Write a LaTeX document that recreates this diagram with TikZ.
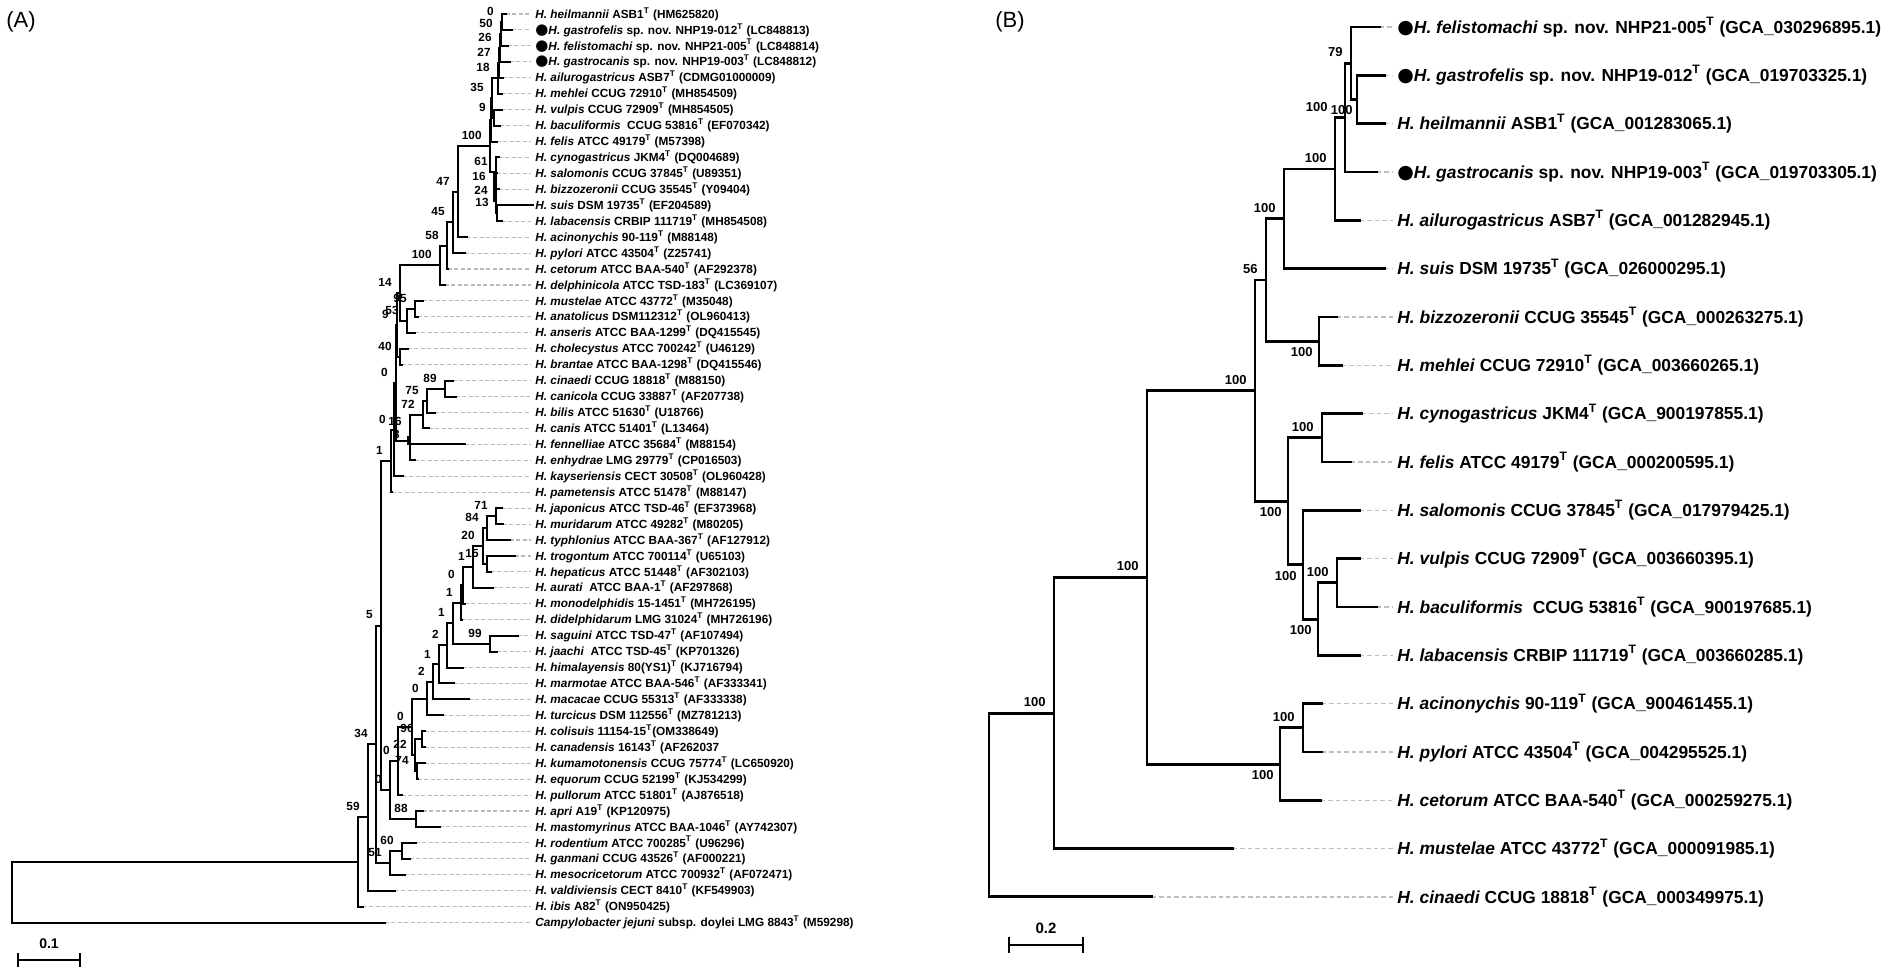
\documentclass[tikz,border=0pt]{standalone}
\usepackage{fontspec}
\setmainfont{Liberation Sans}
\newfontfamily\dvsans{DejaVu Sans}
\usetikzlibrary{positioning}

\newcommand{\sT}{\textsuperscript{T}}
\newcommand{\dotA}{{\dvsans\fontsize{7.5}{8}\selectfont ●}}
\newcommand{\dotB}{{\dvsans\fontsize{9.5}{10}\selectfont ●}}
% parent, upper child, lower child
\newcommand{\kids}[3]{\draw[branch] (#2) -| (#1) |- (#3);}

\begin{document}
\begin{tikzpicture}[x=0.5pt, y=-0.5pt,
    branch/.style={line width=1pt, line cap=rect},
    guide/.style={draw=gray!55, line width=0.55pt, dash pattern=on 2pt off 1.2pt, shorten >=2pt},
    labA/.style={anchor=west, inner sep=0pt, font=\fontsize{5.9}{7}\selectfont\bfseries},
    labB/.style={anchor=west, inner sep=0pt, font=\fontsize{8.7}{10}\selectfont\bfseries},
    boot/.style={anchor=south east, inner sep=0pt, xshift=-4pt, yshift=3pt, font=\fontsize{5.9}{7}\selectfont\bfseries},
    bootB/.style={anchor=south east, inner sep=0pt, xshift=-4pt, yshift=3pt, font=\fontsize{6.5}{7}\selectfont\bfseries},
    bootBlow/.style={anchor=north east, inner sep=0pt, xshift=-3pt, yshift=-3pt, font=\fontsize{6.5}{7}\selectfont\bfseries},
    scalebar/.style={line width=1.1pt},
    panel/.style={font=\fontsize{11}{12}\selectfont}
]
\useasboundingbox (0,0) rectangle (1902,969);
\fill[white] (0,0) rectangle (1902,969);

\node[panel] (titA) at (21,22) {(A)};
\node[panel] (titB) at (1010,22) {(B)};

% ---- panel A: leaves
\foreach \i/\tx/\txt in {
  1/506/{\textit{H. heilmannii} ASB1\sT{} (HM625820)},
  2/512/{\dotA\textit{H. gastrofelis} sp. nov. NHP19-012\sT{} (LC848813)},
  3/508/{\dotA\textit{H. felistomachi} sp. nov. NHP21-005\sT{} (LC848814)},
  4/510/{\dotA\textit{H. gastrocanis} sp. nov. NHP19-003\sT{} (LC848812)},
  5/503/{\textit{H. ailurogastricus} ASB7\sT{} (CDMG01000009)},
  6/502/{\textit{H. mehlei} CCUG 72910\sT{} (MH854509)},
  7/502/{\textit{H. vulpis} CCUG 72909\sT{} (MH854505)},
  8/500/{\textit{H. baculiformis}~ CCUG 53816\sT{} (EF070342)},
  9/497/{\textit{H. felis} ATCC 49179\sT{} (M57398)},
  10/499/{\textit{H. cynogastricus} JKM4\sT{} (DQ004689)},
  11/497/{\textit{H. salomonis} CCUG 37845\sT{} (U89351)},
  12/499/{\textit{H. bizzozeronii} CCUG 35545\sT{} (Y09404)},
  13/533/{\textit{H. suis} DSM 19735\sT{} (EF204589)},
  14/502/{\textit{H. labacensis} CRBIP 111719\sT{} (MH854508)},
  15/467/{\textit{H. acinonychis} 90-119\sT{} (M88148)},
  16/465/{\textit{H. pylori} ATCC 43504\sT{} (Z25741)},
  17/448/{\textit{H. cetorum} ATCC BAA-540\sT{} (AF292378)},
  18/445/{\textit{H. delphinicola} ATCC TSD-183\sT{} (LC369107)},
  19/423/{\textit{H. mustelae} ATCC 43772\sT{} (M35048)},
  20/418/{\textit{H. anatolicus} DSM112312\sT{} (OL960413)},
  21/415/{\textit{H. anseris} ATCC BAA-1299\sT{} (DQ415545)},
  22/408/{\textit{H. cholecystus} ATCC 700242\sT{} (U46129)},
  23/402/{\textit{H. brantae} ATCC BAA-1298\sT{} (DQ415546)},
  24/453/{\textit{H. cinaedi} CCUG 18818\sT{} (M88150)},
  25/456/{\textit{H. canicola} CCUG 33887\sT{} (AF207738)},
  26/435/{\textit{H. bilis} ATCC 51630\sT{} (U18766)},
  27/429/{\textit{H. canis} ATCC 51401\sT{} (L13464)},
  28/465/{\textit{H. fennelliae} ATCC 35684\sT{} (M88154)},
  29/415/{\textit{H. enhydrae} LMG 29779\sT{} (CP016503)},
  30/403/{\textit{H. kayseriensis} CECT 30508\sT{} (OL960428)},
  31/392/{\textit{H. pametensis} ATCC 51478\sT{} (M88147)},
  32/502/{\textit{H. japonicus} ATCC TSD-46\sT{} (EF373968)},
  33/503/{\textit{H. muridarum} ATCC 49282\sT{} (M80205)},
  34/510/{\textit{H. typhlonius} ATCC BAA-367\sT{} (AF127912)},
  35/515/{\textit{H. trogontum} ATCC 700114\sT{} (U65103)},
  36/491/{\textit{H. hepaticus} ATCC 51448\sT{} (AF302103)},
  37/493/{\textit{H. aurati}~ ATCC BAA-1\sT{} (AF297868)},
  38/465/{\textit{H. monodelphidis} 15-1451\sT{} (MH726195)},
  39/462/{\textit{H. didelphidarum} LMG 31024\sT{} (MH726196)},
  40/518/{\textit{H. saguini} ATCC TSD-47\sT{} (AF107494)},
  41/497/{\textit{H. jaachi}~ ATCC TSD-45\sT{} (KP701326)},
  42/463/{\textit{H. himalayensis} 80(YS1)\sT{} (KJ716794)},
  43/454/{\textit{H. marmotae} ATCC BAA-546\sT{} (AF333341)},
  44/469/{\textit{H. macacae} CCUG 55313\sT{} (AF333338)},
  45/443/{\textit{H. turcicus} DSM 112556\sT{} (MZ781213)},
  46/425/{\textit{H. colisuis} 11154-15\sT{}(OM338649)},
  47/425/{\textit{H. canadensis} 16143\sT{} (AF262037},
  48/425/{\textit{H. kumamotonensis} CCUG 75774\sT{} (LC650920)},
  49/418/{\textit{H. equorum} CCUG 52199\sT{} (KJ534299)},
  50/402/{\textit{H. pullorum} ATCC 51801\sT{} (AJ876518)},
  51/423/{\textit{H. apri} A19\sT{} (KP120975)},
  52/440/{\textit{H. mastomyrinus} ATCC BAA-1046\sT{} (AY742307)},
  53/416/{\textit{H. rodentium} ATCC 700285\sT{} (U96296)},
  54/410/{\textit{H. ganmani} CCUG 43526\sT{} (AF000221)},
  55/405/{\textit{H. mesocricetorum} ATCC 700932\sT{} (AF072471)},
  56/395/{\textit{H. valdiviensis} CECT 8410\sT{} (KF549903)},
  57/363/{\textit{H. ibis} A82\sT{} (ON950425)},
  58/385/{\textit{Campylobacter jejuni} subsp. doylei LMG 8843\sT{} (M59298)}}{
  \coordinate (a\i) at (\tx, {14+(\i-1)*15.94});
  \node[labA] (la\i) at (535, {14+(\i-1)*15.94}) {\txt};
  \draw[guide] (a\i) -- (la\i.west);
}

% ---- panel A: inner nodes
\coordinate (T0) at (502,22);     \coordinate (T50) at (501,34);
\coordinate (T26) at (500,48);    \coordinate (T27) at (499,63);
\coordinate (T18) at (498,78);    \coordinate (V9) at (494,118);
\coordinate (T35) at (492,98);    \coordinate (Tfel) at (491,120);
\coordinate (L13) at (497,213);   \coordinate (L24) at (496,201);
\coordinate (L16) at (494,187);   \coordinate (L61) at (496,172);
\coordinate (Ttop) at (490,146);
\coordinate (N47) at (458,191.6); \coordinate (N45) at (453,222.4);
\coordinate (N58) at (447,245.7); \coordinate (N100b) at (440,265.4);
\coordinate (N95) at (415,308.9); \coordinate (N53) at (407,320.9);
\coordinate (N14) at (400,293.1); \coordinate (N40) at (400,356.7);
\coordinate (N9) at (397,324.9);
\coordinate (N89) at (445,388.6); \coordinate (N75) at (427,400.6);
\coordinate (N72) at (423,414.5); \coordinate (N16) at (410,437.4);
\coordinate (N3) at (408,440.9);  \coordinate (N0a) at (396,382.9);
\coordinate (N0b) at (394,429.6); \coordinate (N1) at (391,460.9);
\coordinate (N71) at (496,516.1); \coordinate (N84) at (487,528.0);
\coordinate (N15) at (487,563.9); \coordinate (N20) at (483,546.0);
\coordinate (Na) at (473,566.9);  \coordinate (N0d) at (463,585.4);
\coordinate (N1a) at (461,602.5); \coordinate (N99) at (490,643.6);
\coordinate (N1b) at (453,623.1); \coordinate (N2a) at (447,645.3);
\coordinate (N1c) at (439,664.4); \coordinate (N2c) at (433,681.9);
\coordinate (N0e) at (427,698.6);
\coordinate (N96) at (422,739.3); \coordinate (N74) at (417,771.2);
\coordinate (N22) at (415,755.2); \coordinate (Nb) at (412,726.9);
\coordinate (Npul) at (398,761.0); \coordinate (N88) at (416,819.0);
\coordinate (N0c) at (390,790.0); \coordinate (X5) at (381,625.5);
\coordinate (N60) at (402,850.9); \coordinate (N51) at (390,862.8);
\coordinate (N34) at (376,744.1); \coordinate (N59) at (368,817.4);
\coordinate (Nin) at (358,862.0); \coordinate (rootA) at (12,892.3);

\kids{T0}{a1}{a2}      \kids{T50}{T0}{a3}     \kids{T26}{T50}{a4}
\kids{T27}{T26}{a5}    \kids{T18}{T27}{a6}    \kids{V9}{a7}{a8}
\kids{T35}{T18}{V9}    \kids{Tfel}{T35}{a9}   \kids{L13}{a13}{a14}
\kids{L24}{a12}{L13}   \kids{L16}{a11}{L24}   \kids{L61}{a10}{L16}
\kids{Ttop}{Tfel}{L61}
\kids{N47}{Ttop}{a15}  \kids{N45}{N47}{a16}   \kids{N58}{N45}{a17}
\kids{N100b}{N58}{a18} \kids{N95}{a19}{a20}   \kids{N53}{N95}{a21}
\kids{N14}{N100b}{N53} \kids{N40}{a22}{a23}   \kids{N9}{N14}{N40}
\kids{N89}{a24}{a25}   \kids{N75}{N89}{a26}   \kids{N72}{N75}{a27}
\kids{N16}{N72}{a29}   \kids{N3}{N16}{a28}    \kids{N0a}{N9}{N3}
\kids{N0b}{N0a}{a30}   \kids{N1}{N0b}{a31}
\kids{N71}{a32}{a33}   \kids{N84}{N71}{a34}   \kids{N15}{a35}{a36}
\kids{N20}{N84}{N15}   \kids{Na}{N20}{a37}    \kids{N0d}{Na}{a38}
\kids{N1a}{N0d}{a39}   \kids{N99}{a40}{a41}   \kids{N1b}{N1a}{N99}
\kids{N2a}{N1b}{a42}   \kids{N1c}{N2a}{a43}   \kids{N2c}{N1c}{a44}
\kids{N0e}{N2c}{a45}   \kids{N96}{a46}{a47}   \kids{N74}{a48}{a49}
\kids{N22}{N96}{N74}   \kids{Nb}{N0e}{N22}    \kids{Npul}{Nb}{a50}
\kids{N88}{a51}{a52}   \kids{N0c}{Npul}{N88}  \kids{X5}{N1}{N0c}
\kids{N60}{a53}{a54}   \kids{N51}{N60}{a55}   \kids{N34}{X5}{N51}
\kids{N59}{N34}{a56}   \kids{Nin}{N59}{a57}   \kids{rootA}{Nin}{a58}

\foreach \n/\v in {T0/0, T50/50, T26/26, T27/27, T18/18, T35/35, V9/9,
    Ttop/100, L61/61, L16/16, L24/24, L13/13, N47/47, N45/45, N58/58,
    N100b/100, N14/14, N95/95, N53/53, N9/9, N40/40, N0a/0, N89/89,
    N75/75, N72/72, N0b/0, N1/1, N71/71, N84/84, N20/20,
    N15/15, Na/1, N0d/0, N1a/1, N99/99, N1b/1, N2a/2, N1c/1, N2c/2,
    N0e/0, N96/96, N22/22, N74/74, Nb/0, Npul/0, N88/88, N0c/0, X5/5,
    N60/60, N51/51, N34/34, N59/59}
  \node[boot] at (\n) {\v};
\node[boot, yshift=2.5pt] at (N16) {16};
\node[boot, yshift=-2pt] at (N3) {3};

\coordinate (sA1) at (18,960); \coordinate (sA2) at (80,960);
\draw[scalebar] (sA1) -- (sA2);
\draw[scalebar] ([yshift=3.5pt]sA1) -- ([yshift=-3.5pt]sA1);
\draw[scalebar] ([yshift=3.5pt]sA2) -- ([yshift=-3.5pt]sA2);
\node[font=\fontsize{7}{8}\selectfont\bfseries] (sAl) at (49,944) {0.1};

% ---- panel B
\begin{scope}[branch/.style={line width=1.45pt, line cap=rect},
    guide/.style={draw=gray!50, line width=0.6pt, dash pattern=on 2.2pt off 1.5pt, shorten >=2pt}]
\foreach \j/\tx/\txt in {
  1/1380/{\dotB\textit{H. felistomachi} sp. nov. NHP21-005\sT{} (GCA\_030296895.1)},
  2/1385/{\dotB\textit{H. gastrofelis} sp. nov. NHP19-012\sT{} (GCA\_019703325.1)},
  3/1385/{\textit{H. heilmannii} ASB1\sT{} (GCA\_001283065.1)},
  4/1377/{\dotB\textit{H. gastrocanis} sp. nov. NHP19-003\sT{} (GCA\_019703305.1)},
  5/1360/{\textit{H. ailurogastricus} ASB7\sT{} (GCA\_001282945.1)},
  6/1385/{\textit{H. suis} DSM 19735\sT{} (GCA\_026000295.1)},
  7/1337/{\textit{H. bizzozeronii} CCUG 35545\sT{} (GCA\_000263275.1)},
  8/1342/{\textit{H. mehlei} CCUG 72910\sT{} (GCA\_003660265.1)},
  9/1362/{\textit{H. cynogastricus} JKM4\sT{} (GCA\_900197855.1)},
  10/1351/{\textit{H. felis} ATCC 49179\sT{} (GCA\_000200595.1)},
  11/1360/{\textit{H. salomonis} CCUG 37845\sT{} (GCA\_017979425.1)},
  12/1360/{\textit{H. vulpis} CCUG 72909\sT{} (GCA\_003660395.1)},
  13/1377/{\textit{H. baculiformis}~ CCUG 53816\sT{} (GCA\_900197685.1)},
  14/1360/{\textit{H. labacensis} CRBIP 111719\sT{} (GCA\_003660285.1)},
  15/1322/{\textit{H. acinonychis} 90-119\sT{} (GCA\_900461455.1)},
  16/1322/{\textit{H. pylori} ATCC 43504\sT{} (GCA\_004295525.1)},
  17/1321/{\textit{H. cetorum} ATCC BAA-540\sT{} (GCA\_000259275.1)},
  18/1233/{\textit{H. mustelae} ATCC 43772\sT{} (GCA\_000091985.1)},
  19/1152/{\textit{H. cinaedi} CCUG 18818\sT{} (GCA\_000349975.1)}}{
  \coordinate (b\j) at (\tx, {27+(\j-1)*48.33});
  \node[labB] (lb\j) at (1397, {27+(\j-1)*48.33}) {\txt};
  \draw[guide] (b\j) -- (lb\j.west);
}

\coordinate (M79) at (1351,63.2);   \coordinate (Mgh) at (1357,99.5);
\coordinate (Mfel) at (1345,117.6); \coordinate (MA) at (1335,169.0);
\coordinate (M100a) at (1284,218.8); \coordinate (Mbm) at (1319,341.2);
\coordinate (M56) at (1266,280.0);  \coordinate (Mcy) at (1322,437.8);
\coordinate (Mvb) at (1337,582.8);  \coordinate (Mvbl) at (1318,619.1);
\coordinate (Msal) at (1303,564.7); \coordinate (Mcf) at (1288,501.3);
\coordinate (Mbig) at (1255,390.6); \coordinate (Macp) at (1303,727.8);
\coordinate (Mhp) at (1280,764.1);  \coordinate (M100c) at (1147,577.3);
\coordinate (Mmus) at (1054,713.1); \coordinate (rootB) at (989,805.0);

\kids{Mgh}{b2}{b3}     \kids{M79}{b1}{Mgh}     \kids{Mfel}{M79}{b4}
\kids{MA}{Mfel}{b5}    \kids{M100a}{MA}{b6}    \kids{Mbm}{b7}{b8}
\kids{M56}{M100a}{Mbm} \kids{Mcy}{b9}{b10}     \kids{Mvb}{b12}{b13}
\kids{Mvbl}{Mvb}{b14}  \kids{Msal}{b11}{Mvbl}  \kids{Mcf}{Mcy}{Msal}
\kids{Mbig}{M56}{Mcf}  \kids{Macp}{b15}{b16}   \kids{Mhp}{Macp}{b17}
\kids{M100c}{Mbig}{Mhp} \kids{Mmus}{M100c}{b18} \kids{rootB}{Mmus}{b19}
\end{scope}

\foreach \n/\v in {M79/79, MA/100, M100a/100, M56/56, Mcy/100,
    Mvb/100, Mbig/100, Macp/100, M100c/100, Mmus/100}
  \node[bootB] at (\n) {\v};
\node[bootB, xshift=-4.5pt] at (Mfel) {100};
\node[bootBlow, xshift=1pt] at (Mgh) {100};
\foreach \n in {Mbm, Mvbl, Msal, Mcf, Mhp}
  \node[bootBlow] at (\n) {100};

\coordinate (sB1) at (1009,945); \coordinate (sB2) at (1083,945);
\draw[scalebar, line width=1.4pt] (sB1) -- (sB2);
\draw[scalebar, line width=1.4pt] ([yshift=4pt]sB1) -- ([yshift=-4pt]sB1);
\draw[scalebar, line width=1.4pt] ([yshift=4pt]sB2) -- ([yshift=-4pt]sB2);
\node[font=\fontsize{7.5}{8}\selectfont\bfseries] (sBl) at (1046,928) {0.2};
\end{tikzpicture}
\end{document}
